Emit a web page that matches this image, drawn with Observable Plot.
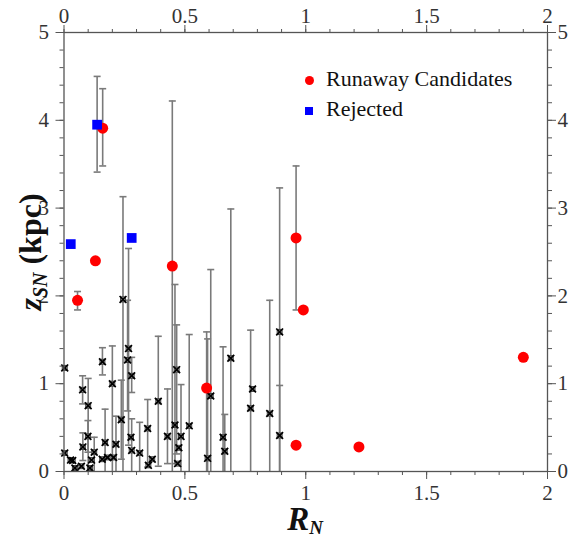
<!DOCTYPE html>
<html><head><meta charset="utf-8">
<script src="https://cdn.jsdelivr.net/npm/d3@7"></script>
<script src="https://cdn.jsdelivr.net/npm/@observablehq/plot@0.6"></script>
<style>
body{margin:0;background:#fff}
#wrap{position:relative;width:571px;height:540px;font-family:"Liberation Serif","Times New Roman",Times,"DejaVu Serif",serif;color:#222}
.ov{position:absolute;white-space:nowrap}
</style>
</head><body><div id="wrap"></div>
<script>
// ---- data ----
// Sample stars (black markers): R_N, z_SN, lower / upper error (null = no bar)
const sampleR  = [0.003,0.003,0.027,0.036,0.045,0.072,0.078,0.077,0.100,0.099,0.107,0.114,0.125,0.159,0.158,0.170,0.180,0.200,0.205,0.215,0.237,0.244,0.267,0.263,0.280,0.277,0.280,0.313,0.346,0.349,0.365,0.390,0.428,0.459,0.466,0.475,0.484,0.470,0.518,0.594,0.607,0.658,0.665,0.690,0.772,0.780,0.851,0.892,0.892];
const sampleZ  = [1.18,0.21,0.13,0.125,0.04,0.06,0.28,0.93,0.75,0.40,0.04,0.13,0.22,1.25,0.14,0.33,0.16,1.00,0.16,0.31,0.59,1.96,1.40,1.27,1.09,0.39,0.24,0.21,0.49,0.07,0.14,0.80,0.40,0.53,1.16,0.27,0.40,0.09,0.52,0.15,0.86,0.39,0.23,1.29,0.72,0.94,0.66,1.59,0.41];
const sampleLo = [null,null,null,null,null,null,0.125,0.77,0,0.22,null,null,0,1.10,null,0,null,0,null,0,0.14,0,0.30,0.69,0.90,null,0,0,0.05,null,null,0.06,0.09,0.09,0.20,null,0,null,0,0,0,0,0,0,0,null,0,0,0];
const sampleHi = [null,null,null,null,null,null,0.44,1.09,1.06,0.58,null,null,0.39,1.41,null,0.71,null,1.43,null,0.63,1.04,3.13,2.54,1.95,1.30,null,0.60,0.56,0.82,null,null,1.54,0.94,2.13,1.67,null,0.99,null,1.56,1.51,2.30,1.42,0.65,2.99,1.61,null,1.95,3.23,0.98];

// Runaway candidates (red circles)
const candR  = [0.056,0.130,0.160,0.448,0.590,0.960,0.990,0.960,1.220,1.900];
const candZ  = [1.95,2.40,3.91,2.34,0.95,2.66,1.84,0.30,0.28,1.30];
const candLo = [1.84,null,3.48,0,0,1.84,null,null,null,null];
const candHi = [2.05,null,4.36,4.22,1.59,3.48,null,null,null,null];

// Rejected (blue squares)
const rejR  = [0.028,0.137,0.280];
const rejZ  = [2.59,3.95,2.66];
const rejLo = [null,3.41,null];
const rejHi = [null,4.50,null];

const majorX = [0,0.5,1,1.5,2];
const minorX = d3.range(0,2.0001,0.1).map(v=>+v.toFixed(1));
const majorY = [0,1,2,3,4,5];
const minorY = d3.range(0,5.0001,0.2).map(v=>+v.toFixed(1));

const legendLabels = ["Runaway Candidates","Rejected"];

// ---- build tables ----
const mk = (R,Z,Lo,Hi,group)=>R.map((r,i)=>({r, z:Z[i], lo:Lo[i], hi:Hi[i], group}));
const sample = mk(sampleR,sampleZ,sampleLo,sampleHi,"sample");
const cand = mk(candR,candZ,candLo,candHi,"cand");
const rej = mk(rejR,rejZ,rejLo,rejHi,"rej");
const bars = [...sample,...cand,...rej].filter(d=>d.lo!=null);
const caps = bars.flatMap(d=>[{r:d.r,v:d.lo},{r:d.r,v:d.hi}]).filter(d=>d.v>0);

const capSymbol = {draw(ctx,size){const w=Math.sqrt(size/Math.PI);ctx.moveTo(-w,0);ctx.lineTo(w,0);}};
const errColor = "#7a7a7a";
const axColor = "#555";
const tf = 21;
const serif = '"Liberation Serif","Times New Roman",Times,"DejaVu Serif",serif';

const chart = Plot.plot({
  width:571, height:540,
  marginLeft:63.5, marginRight:24, marginTop:32, marginBottom:69,
  x:{domain:[0,2], label:null},
  y:{domain:[0,5], label:null},
  style:{fontFamily:serif, fontSize:tf+"px", color:"#333", background:"#fff"},
  marks:[
    Plot.ruleX(bars,{x:"r", y1:"lo", y2:"hi", stroke:errColor, strokeWidth:1.6}),
    Plot.dot(caps,{x:"r", y:"v", symbol:capSymbol, r:3.5, stroke:errColor, strokeWidth:1.6, fill:"none"}),
    Plot.dot(sample,{x:"r", y:"z", symbol:"square", r:2.8, stroke:"#333", strokeWidth:0.9, fill:"#aaa"}),
    Plot.dot(sample,{x:"r", y:"z", symbol:"times", r:3.2, stroke:"#000", strokeWidth:1.7}),
    Plot.dot(cand,{x:"r", y:"z", r:5.5, fill:"#ff0000", stroke:"none"}),
    Plot.dot(rej,{x:"r", y:"z", symbol:"square", r:5.5, fill:"#0000ff", stroke:"none"}),
    Plot.frame({stroke:axColor, strokeWidth:1.3}),
    Plot.axisX({anchor:"bottom", ticks:minorX, tickSize:4, tickFormat:()=>"", stroke:axColor, label:null}),
    Plot.axisX({anchor:"top", ticks:minorX, tickSize:4, tickFormat:()=>"", stroke:axColor, label:null}),
    Plot.axisY({anchor:"left", ticks:minorY, tickSize:4, tickFormat:()=>"", stroke:axColor, label:null}),
    Plot.axisY({anchor:"right", ticks:minorY, tickSize:4, tickFormat:()=>"", stroke:axColor, label:null}),
    Plot.axisX({anchor:"bottom", ticks:majorX, tickSize:8, tickPadding:6, stroke:axColor, fill:"#333", label:null, tickFormat:d=>String(d)}),
    Plot.axisX({anchor:"top", ticks:majorX, tickSize:8, tickPadding:2, stroke:axColor, fill:"#333", label:null, tickFormat:d=>String(d)}),
    Plot.axisY({anchor:"left", ticks:majorY, tickSize:8, tickPadding:7, stroke:axColor, fill:"#333", label:null, tickFormat:d=>String(d)}),
    Plot.axisY({anchor:"right", ticks:majorY, tickSize:8, tickPadding:2, stroke:axColor, fill:"#333", label:null, tickFormat:d=>String(d)})
  ]
});
const wrap = document.getElementById("wrap");
wrap.appendChild(chart);

// legend
const leg = document.createElement("div");
leg.className="ov";
leg.style.cssText="position:absolute;left:305px;top:64px;font-size:22px;line-height:30px;color:#111";
leg.innerHTML =
  `<div><span style="display:inline-block;width:9px;height:9px;border-radius:50%;background:#ff0000;margin-right:12px;vertical-align:middle"></span>${legendLabels[0]}</div>`+
  `<div><span style="display:inline-block;width:8px;height:8px;background:#0000ff;margin-right:13px;vertical-align:middle"></span>${legendLabels[1]}</div>`;
wrap.appendChild(leg);

// axis titles
const xl = document.createElement("div");
xl.className="ov";
xl.style.cssText="left:305px;top:519px;transform:translate(-50%,-50%);font-size:33px;line-height:26px;font-weight:bold;font-style:italic;color:#111";
xl.innerHTML='R<sub style="font-size:19px;vertical-align:-4px;line-height:0">N</sub>';
wrap.appendChild(xl);

const yl = document.createElement("div");
yl.className="ov";
yl.style.cssText="left:30px;top:252px;transform:translate(-50%,-50%) rotate(-90deg);font-size:32px;line-height:34px;font-weight:bold;color:#111";
yl.innerHTML='<i>z</i><sub style="font-size:20px;vertical-align:-6px;line-height:0"><i>SN</i></sub> (kpc)';
wrap.appendChild(yl);
</script>
</body></html>
